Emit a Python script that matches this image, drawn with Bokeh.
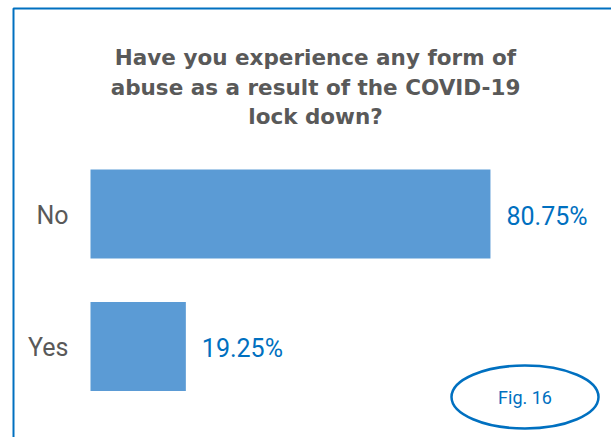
import numpy as np
from bokeh.plotting import figure
from bokeh.models import Range1d, ColumnDataSource
from bokeh.core.properties import value
from bokeh.embed import file_html
from bokeh.resources import INLINE

# ---- data ----
categories = ["Yes", "No"]
percentages = [19.25, 80.75]
value_labels = ["19.25%", "80.75%"]
title_lines = ["Have you experience any form of",
               "abuse as a result of the COVID-19",
               "lock down?"]
fig_note = "Fig. 16"

# ---- layout constants (pixels) ----
W, H = 611, 437
X0 = 90          # pixel x of 0 %
PX = 4.953       # pixels per percent
Y0 = 346         # pixel y of first category centre
PY = 132.5       # pixels per category step


def dx(px):
    return (px - X0) / PX


def dy(py):
    return (Y0 - py) / PY


BLUE = "#0070C0"
BAR = "#5B9BD5"
GREY = "#595959"

ypos = np.arange(len(categories))
src = ColumnDataSource(dict(cat=categories, y=ypos, pct=percentages, lbl=value_labels,
                            zero=np.zeros(len(categories))))

p = figure(width=W, height=H, output_backend="svg", toolbar_location=None,
           x_range=Range1d(dx(0), dx(W)), y_range=Range1d(dy(H), dy(0)),
           x_axis_location=None, y_axis_location=None,
           min_border=0, min_border_left=0, min_border_right=0,
           min_border_top=0, min_border_bottom=0)
p.outline_line_color = None
p.xgrid.visible = False
p.ygrid.visible = False
p.background_fill_color = "white"
p.border_fill_color = "white"

# chart border (top and left edges)
p.line(x=[dx(13), dx(13), dx(W + 20)], y=[dy(H + 20), dy(8), dy(8)],
       line_color=BLUE, line_width=2)

# bars
p.hbar(y="y", right="pct", left=0, height=0.67, source=src,
       fill_color=BAR, line_color=None)

# category labels
p.text(x="zero", y="y", text="cat", source=src, x_offset=-22, y_offset=1,
       text_align="right", text_baseline="middle",
       text_font=value("Roboto"), text_font_size="25px", text_color=GREY)

# value labels
p.text(x="pct", y="y", text="lbl", source=src, x_offset=16, y_offset=2,
       text_align="left", text_baseline="middle",
       text_font=value("Roboto"), text_font_size="25px", text_color=BLUE)

# title
baselines = [57, 87, 116]
p.text(x=[dx(315)] * 3, y=[dy(b) for b in baselines], text=title_lines,
       text_align="center", text_baseline="alphabetic",
       text_font=value("DejaVu Sans"), text_font_style="bold",
       text_font_size="21.5px", text_color=GREY)

# "Fig. 16" badge
ex, ey = dx(524.5), dy(396.5)
p.ellipse(x=[ex], y=[ey], width=147, height=63, width_units="screen", height_units="screen",
          fill_color=None, line_color=BLUE, line_width=2.5)
p.text(x=[ex], y=[ey], text=[fig_note],
       text_align="center", text_baseline="middle",
       text_font=value("Roboto"), text_font_size="18px", text_color=BLUE)

open("out.html", "w").write(file_html(p, INLINE))
